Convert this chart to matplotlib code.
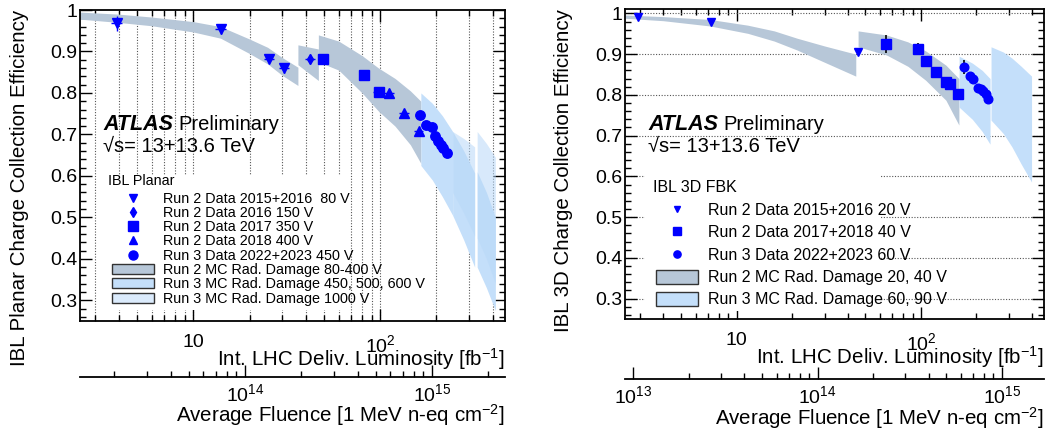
import numpy as np
import matplotlib
matplotlib.use('Agg')
import matplotlib.pyplot as plt
from matplotlib.lines import Line2D
from matplotlib.patches import Patch, Rectangle
from matplotlib.ticker import (FixedLocator, FuncFormatter, LogLocator,
                               NullFormatter, MultipleLocator)

plt.rcParams['font.family'] = ['Liberation Sans', 'DejaVu Sans']
plt.rcParams['mathtext.fontset'] = 'custom'
plt.rcParams['mathtext.rm'] = 'Liberation Sans'
plt.rcParams['mathtext.it'] = 'Liberation Sans:italic'

# ---------------- IBL Planar (left) ----------------
pl_r2_1516_lumi = [3.9, 14.0, 25.5, 30.7]
pl_r2_1516_eff = [0.968, 0.955, 0.881, 0.859]
pl_r2_1516_yerr = [0.018, 0.012, 0.010, 0.010]
pl_r2_1516_xerr = [0.25, 0.9, 1.5, 1.8]

pl_r2_16_lumi = [42.2]
pl_r2_16_eff = [0.882]
pl_r2_16_yerr = [0.012]
pl_r2_16_xerr = [2.5]

pl_r2_17_lumi = [49.3, 82.0, 98.0]
pl_r2_17_eff = [0.881, 0.844, 0.803]
pl_r2_17_yerr = [0.010, 0.008, 0.008]
pl_r2_17_xerr = [3.0, 5.0, 6.0]

pl_r2_18_lumi = [112.0, 134.0, 161.0]
pl_r2_18_eff = [0.801, 0.752, 0.707]
pl_r2_18_yerr = [0.008, 0.008, 0.008]
pl_r2_18_xerr = [7.0, 8.0, 9.0]

pl_r3_lumi = [164, 175, 190, 197, 205, 212, 218, 228]
pl_r3_eff = [0.747, 0.723, 0.718, 0.695, 0.684, 0.675, 0.667, 0.655]
pl_r3_yerr = [0.008, 0.008, 0.008, 0.008, 0.008, 0.008, 0.008, 0.008]
pl_r3_xerr = [8, 8, 9, 9, 9, 10, 10, 12]

# MC bands (lumi, upper edge, lower edge)
pl_mc2_seg1_lumi = [2.47, 4, 6, 10, 14, 20, 25, 30, 36.3]
pl_mc2_seg1_top = [0.995, 0.990, 0.983, 0.972, 0.960, 0.930, 0.910, 0.885, 0.862]
pl_mc2_seg1_bot = [0.978, 0.970, 0.962, 0.947, 0.932, 0.895, 0.870, 0.842, 0.818]
pl_mc2_seg2_lumi = [36.3, 46.7]
pl_mc2_seg2_top = [0.916, 0.906]
pl_mc2_seg2_bot = [0.868, 0.830]
pl_mc2_seg3_lumi = [46.7, 60, 80, 98, 120, 145, 165]
pl_mc2_seg3_top = [0.940, 0.925, 0.890, 0.860, 0.835, 0.805, 0.780]
pl_mc2_seg3_bot = [0.875, 0.855, 0.800, 0.756, 0.720, 0.675, 0.630]

pl_mc3_segA_lumi = [165, 190, 215, 244]
pl_mc3_segA_top = [0.800, 0.775, 0.745, 0.707]
pl_mc3_segA_bot = [0.625, 0.590, 0.550, 0.505]
pl_mc3_segB_lumi = [244, 280, 320]
pl_mc3_segB_top = [0.707, 0.660, 0.607]
pl_mc3_segB_bot = [0.505, 0.445, 0.380]
pl_mc3_segC_lumi = [330, 370, 413]
pl_mc3_segC_top = [0.610, 0.560, 0.500]
pl_mc3_segC_bot = [0.380, 0.330, 0.275]

pl_mc1000_segA_lumi = [244, 280, 320]
pl_mc1000_segA_top = [0.707, 0.690, 0.670]
pl_mc1000_segA_bot = [0.560, 0.510, 0.455]
pl_mc1000_segB_lumi = [330, 370, 413]
pl_mc1000_segB_top = [0.707, 0.678, 0.645]
pl_mc1000_segB_bot = [0.450, 0.400, 0.340]

pl_fluence_ticks = [1e14, 1e15]

# ---------------- IBL 3D FBK (right) ----------------
fbk_r2_1516_lumi = [2.9, 7.22, 45.3]
fbk_r2_1516_eff = [0.990, 0.979, 0.904]
fbk_r2_1516_yerr = [0.0, 0.0, 0.0]

fbk_r2_1718_lumi = [64.9, 96.4, 106, 120.7, 136.5, 143, 158.5]
fbk_r2_1718_eff = [0.925, 0.913, 0.882, 0.857, 0.832, 0.826, 0.801]
fbk_r2_1718_yerr = [0.022, 0.015, 0.0, 0.0, 0.0, 0.0, 0.0]

fbk_r3_lumi = [170.6, 185, 191, 204, 211, 218, 224, 230]
fbk_r3_eff = [0.869, 0.846, 0.839, 0.817, 0.815, 0.810, 0.803, 0.791]
fbk_r3_yerr = [0.017, 0.0, 0.0, 0.0, 0.0, 0.012, 0.0, 0.012]

fbk_mc2_seg1_lumi = [2.49, 4, 7.2, 11.5, 16, 21.3, 30, 44.3]
fbk_mc2_seg1_top = [0.996, 0.992, 0.985, 0.971, 0.957, 0.939, 0.920, 0.900]
fbk_mc2_seg1_bot = [0.988, 0.982, 0.969, 0.951, 0.932, 0.910, 0.880, 0.846]
fbk_mc2_seg2_lumi = [45.6, 65, 85, 106, 136.5, 160.6]
fbk_mc2_seg2_top = [0.957, 0.947, 0.930, 0.908, 0.873, 0.840]
fbk_mc2_seg2_bot = [0.918, 0.898, 0.870, 0.836, 0.787, 0.726]

fbk_mc3_segA_lumi = [161, 190, 215, 237]
fbk_mc3_segA_top = [0.895, 0.878, 0.860, 0.840]
fbk_mc3_segA_bot = [0.770, 0.740, 0.710, 0.679]
fbk_mc3_segB_lumi = [240, 280, 312, 350, 398]
fbk_mc3_segB_top = [0.918, 0.905, 0.890, 0.870, 0.846]
fbk_mc3_segB_bot = [0.738, 0.705, 0.672, 0.630, 0.586]

fbk_fluence_ticks = [1e13, 1e14, 1e15]

c_mc2 = '#b7c7d8'
c_mc3 = '#c4dffa'
c_mc1000 = '#dbebfc'
c_data = '#0000ff'

fig = plt.figure(figsize=(10.55, 4.32), dpi=100)
axl = fig.add_axes([80 / 1055, 1 - 321 / 432, 425 / 1055, 311 / 432])
axr = fig.add_axes([625 / 1055, 1 - 319 / 432, 419 / 1055, 309.7 / 432])


def lumi_fmt(v, p):
    if abs(v - 10) < 1e-6:
        return '10'
    return r'$\mathdefault{10^{2}}$'


def eff_fmt(v, p):
    if abs(v - 1) < 1e-6:
        return '1'
    return '%.1f' % v


def flu_fmt(v, p):
    return r'$\mathdefault{10^{%d}}$' % round(np.log10(v))


def style(ax, k, sec_loc, flu_ticks, ylab, ylab_x, ylim, lumi_lab_y, flu_lab_y):
    ax.set_xscale('log')
    ax.set_xlim(2.48, 465)
    ax.set_ylim(*ylim)
    ax.xaxis.set_major_locator(FixedLocator([10, 100]))
    ax.xaxis.set_major_formatter(FuncFormatter(lumi_fmt))
    ax.xaxis.set_minor_locator(LogLocator(base=10, subs=[2, 3, 4, 5, 6, 7, 8, 9]))
    ax.xaxis.set_minor_formatter(NullFormatter())
    ax.yaxis.set_major_locator(MultipleLocator(0.1))
    ax.yaxis.set_major_formatter(FuncFormatter(eff_fmt))
    ax.yaxis.set_minor_locator(MultipleLocator(0.02))
    ax.tick_params(which='both', direction='in', top=True, right=True, width=1)
    ax.tick_params(which='major', length=8.5, labelsize=14)
    ax.tick_params(which='minor', length=4.3)
    ax.tick_params(axis='x', pad=9.5)
    ax.tick_params(axis='y', pad=2)
    for s in ax.spines.values():
        s.set_linewidth(1.3)
    ax.set_axisbelow(True)

    ax.set_ylabel(ylab, fontsize=14.8, loc='top')
    ax.yaxis.set_label_coords(ylab_x, 1.0)
    ax.yaxis.label.set_va('center')
    ax.set_xlabel(r'Int. LHC Deliv. Luminosity [fb$^{\mathdefault{-1}}$]',
                  fontsize=14.8, loc='right')
    ax.xaxis.set_label_coords(1.0, lumi_lab_y)
    ax.xaxis.label.set_va('center')

    sec = ax.secondary_xaxis(sec_loc, functions=(lambda x: x * k, lambda f: f / k))
    sec.xaxis.set_major_locator(FixedLocator(flu_ticks))
    sec.xaxis.set_major_formatter(FuncFormatter(flu_fmt))
    sec.xaxis.set_minor_locator(LogLocator(base=10, subs=[2, 3, 4, 5, 6, 7, 8, 9]))
    sec.xaxis.set_minor_formatter(NullFormatter())
    sec.tick_params(which='both', direction='in', width=1)
    sec.tick_params(which='major', length=8.5, labelsize=14, pad=4.5)
    sec.tick_params(which='minor', length=4.3)
    sec.spines['bottom'].set_linewidth(1.3)
    sec.set_xlabel(r'Average Fluence [1 MeV n-eq cm$^{\mathdefault{-2}}$]',
                   fontsize=14.8, loc='right')
    sec.xaxis.set_label_coords(1.0, flu_lab_y, transform=ax.transAxes)
    sec.xaxis.label.set_va('center')
    return sec


def band(ax, lumi, top, bot, color, alpha=1.0):
    ax.fill_between(lumi, bot, top, color=color, lw=0, alpha=alpha, zorder=1.5)


def atlas(ax, x, y, y2):
    ax.text(x, y, 'ATLAS', transform=ax.transAxes, fontsize=15.5,
            weight='bold', style='italic', va='baseline')
    ax.annotate('Preliminary', xy=(x, y), xycoords='axes fraction',
                xytext=(54, 0), textcoords='offset points', fontsize=14.5,
                va='baseline')
    ax.text(x, y2, '\u221as= 13+13.6 TeV', transform=ax.transAxes,
            fontsize=14.5, va='baseline')


# ---------------- left panel ----------------
style(axl, 5.29e12, -0.181, pl_fluence_ticks,
      'IBL Planar Charge Collection Efficiency', -0.142,
      (0.25, 1.0), -0.122, -0.302)
axl.grid(axis='x', which='both', ls=(0, (1, 1.5)), color='#555555', lw=0.8)
axl.add_patch(Rectangle((3.36, 0.276), 64.9 - 3.36, 0.602 - 0.276,
                        facecolor='white', edgecolor='none', zorder=1.2))

band(axl, pl_mc2_seg1_lumi, pl_mc2_seg1_top, pl_mc2_seg1_bot, c_mc2)
band(axl, pl_mc2_seg2_lumi, pl_mc2_seg2_top, pl_mc2_seg2_bot, c_mc2)
band(axl, pl_mc2_seg3_lumi, pl_mc2_seg3_top, pl_mc2_seg3_bot, c_mc2)
band(axl, pl_mc3_segA_lumi, pl_mc3_segA_top, pl_mc3_segA_bot, c_mc3)
band(axl, pl_mc3_segB_lumi, pl_mc3_segB_top, pl_mc3_segB_bot, c_mc3)
band(axl, pl_mc3_segC_lumi, pl_mc3_segC_top, pl_mc3_segC_bot, c_mc3)
band(axl, pl_mc1000_segA_lumi, pl_mc1000_segA_top, pl_mc1000_segA_bot, '#b8d8f8', 0.55)
band(axl, pl_mc1000_segB_lumi, pl_mc1000_segB_top, pl_mc1000_segB_bot, '#b8d8f8', 0.55)

eb = dict(ls='none', color=c_data, ecolor=c_data, elinewidth=1, capsize=0, zorder=3)
axl.errorbar(pl_r2_1516_lumi, pl_r2_1516_eff, yerr=pl_r2_1516_yerr,
             xerr=pl_r2_1516_xerr, marker='v', ms=6.5, **eb)
axl.errorbar(pl_r2_16_lumi, pl_r2_16_eff, yerr=pl_r2_16_yerr,
             xerr=pl_r2_16_xerr, marker='d', ms=5.5, **eb)
axl.errorbar(pl_r2_17_lumi, pl_r2_17_eff, yerr=pl_r2_17_yerr,
             xerr=pl_r2_17_xerr, marker='s', ms=7.2, **eb)
axl.errorbar(pl_r2_18_lumi, pl_r2_18_eff, yerr=pl_r2_18_yerr,
             xerr=pl_r2_18_xerr, marker='^', ms=6.5, **eb)
axl.errorbar(pl_r3_lumi, pl_r3_eff, yerr=pl_r3_yerr,
             xerr=pl_r3_xerr, marker='o', ms=6.8, **eb)

atlas(axl, 0.054, 0.614, 0.543)

pl_handles = [Line2D([], [], ls='none', marker='v', color=c_data, ms=6),
              Line2D([], [], ls='none', marker='d', color=c_data, ms=5),
              Line2D([], [], ls='none', marker='s', color=c_data, ms=7),
              Line2D([], [], ls='none', marker='^', color=c_data, ms=6),
              Line2D([], [], ls='none', marker='o', color=c_data, ms=6.5),
              Patch(facecolor=c_mc2, edgecolor='#333333', lw=1),
              Patch(facecolor=c_mc3, edgecolor='#333333', lw=1),
              Patch(facecolor=c_mc1000, edgecolor='#333333', lw=1)]
pl_labels = ['Run 2 Data 2015+2016  80 V', 'Run 2 Data 2016 150 V',
             'Run 2 Data 2017 350 V', 'Run 2 Data 2018 400 V',
             'Run 3 Data 2022+2023 450 V', 'Run 2 MC Rad. Damage 80-400 V',
             'Run 3 MC Rad. Damage 450, 500, 600 V', 'Run 3 MC Rad. Damage 1000 V']
axl.text((108 - 80) / 425, (321 - 181) / 311, 'IBL Planar', transform=axl.transAxes,
         fontsize=10.4, va='center', ha='left')
axl.legend(pl_handles, pl_labels, loc='upper left', bbox_to_anchor=(0.0753, 0.416),
           frameon=False, fontsize=10.4, handlelength=2.9, handleheight=0.7,
           handletextpad=0.65, labelspacing=0.02, borderpad=0, borderaxespad=0)

# ---------------- right panel ----------------
style(axr, 3.64e12, -0.195, fbk_fluence_ticks,
      'IBL 3D Charge Collection Efficiency', -0.147,
      (0.25, 1.01), -0.123, -0.319)
axr.grid(axis='y', which='major', ls=(0, (1, 1.5)), color='#555555', lw=0.8)
axr.add_patch(Rectangle((3.19, 0.27), 60 - 3.19, 0.61 - 0.27,
                        facecolor='white', edgecolor='none', zorder=1.2))

band(axr, fbk_mc2_seg1_lumi, fbk_mc2_seg1_top, fbk_mc2_seg1_bot, c_mc2)
band(axr, fbk_mc2_seg2_lumi, fbk_mc2_seg2_top, fbk_mc2_seg2_bot, c_mc2)
band(axr, fbk_mc3_segA_lumi, fbk_mc3_segA_top, fbk_mc3_segA_bot, c_mc3)
band(axr, fbk_mc3_segB_lumi, fbk_mc3_segB_top, fbk_mc3_segB_bot, c_mc3)

eb2 = dict(ls='none', color=c_data, ecolor='black', elinewidth=1.2, capsize=0, zorder=3)
axr.errorbar(fbk_r2_1516_lumi, fbk_r2_1516_eff, yerr=fbk_r2_1516_yerr,
             marker='v', ms=6, **eb2)
axr.errorbar(fbk_r2_1718_lumi, fbk_r2_1718_eff, yerr=fbk_r2_1718_yerr,
             marker='s', ms=6.5, **eb2)
axr.errorbar(fbk_r3_lumi, fbk_r3_eff, yerr=fbk_r3_yerr,
             marker='o', ms=6.2, **eb2)

atlas(axr, 0.055, 0.61, 0.539)

fbk_handles = [Line2D([], [], ls='none', marker='v', color=c_data, ms=4.8),
               Line2D([], [], ls='none', marker='s', color=c_data, ms=5.5),
               Line2D([], [], ls='none', marker='o', color=c_data, ms=5.2),
               Patch(facecolor=c_mc2, edgecolor='#333333', lw=1),
               Patch(facecolor=c_mc3, edgecolor='#333333', lw=1)]
fbk_labels = ['Run 2 Data 2015+2016 20 V', 'Run 2 Data 2017+2018 40 V',
              'Run 3 Data 2022+2023 60 V', 'Run 2 MC Rad. Damage 20, 40 V',
              'Run 3 MC Rad. Damage 60, 90 V']
axr.text((653 - 625) / 419, (319 - 187) / 309.7, 'IBL 3D FBK', transform=axr.transAxes,
         fontsize=11.5, va='center', ha='left')
axr.legend(fbk_handles, fbk_labels, loc='upper left', bbox_to_anchor=(0.074, 0.376),
           frameon=False, fontsize=11.5, handlelength=2.65, handleheight=1.0,
           handletextpad=0.6, labelspacing=0.42, borderpad=0, borderaxespad=0)

fig.savefig('out.png', dpi=100)
